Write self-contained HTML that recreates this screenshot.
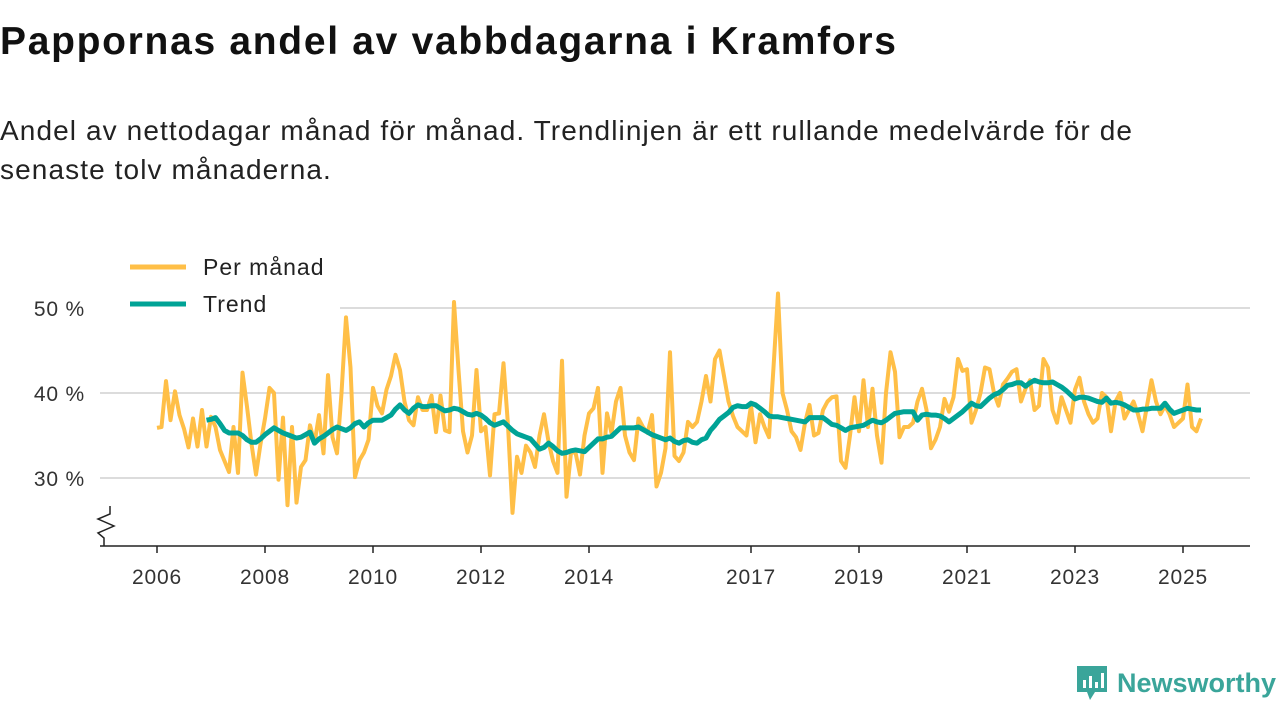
<!DOCTYPE html>
<html><head><meta charset="utf-8">
<style>
body{margin:0;width:1280px;height:720px;background:#fff;overflow:hidden;font-family:"Liberation Sans",sans-serif;color:#1a1a1a}
#title{position:absolute;left:0;top:20px;font-size:39px;font-weight:bold;color:#111;letter-spacing:1.7px;white-space:nowrap}
#sub{position:absolute;left:0;top:111px;font-size:28px;line-height:39px;color:#222;width:1235px;letter-spacing:1.1px}
svg{position:absolute;left:0;top:0}
#logo{position:absolute;right:4px;bottom:18px;font-size:27px;font-weight:bold;color:#3aa59a;display:flex;align-items:center;gap:8px}
</style></head><body>
<div id="title">Pappornas andel av vabbdagarna i Kramfors</div>
<div id="sub">Andel av nettodagar månad för månad. Trendlinjen är ett rullande medelvärde för de senaste tolv månaderna.</div>
<svg id="chart" width="1280" height="720"></svg>
<div id="logo">
<svg width="34" height="38" viewBox="0 0 34 38" style="position:static"><path d="M2 2h30v26H20l-5 8-3-8H2z" fill="#3aa59a"/><rect x="8" y="16" width="3" height="8" fill="#fff"/><rect x="14" y="12" width="3" height="12" fill="#fff"/><rect x="20" y="18" width="3" height="6" fill="#fff"/><rect x="26" y="9" width="3" height="15" fill="#fff"/></svg>
<span>Newsworthy</span></div>
<script>
const monthly=[35.9,36,41.4,36.8,40.2,37.4,35.8,33.6,37,33.7,38,33.7,
37.2,36,33.3,32,30.7,36,30.6,42.4,38.4,34,30.4,34,
37,40.6,40,29.8,37.1,26.8,36,27.1,31.3,32.1,36.2,34.1,
37.4,32.9,42.1,34.8,32.9,40,48.9,43,30.1,32.1,33,34.5,
40.6,38.5,37.6,40.4,42,44.5,42.7,39,36.8,36.2,39.5,38,
38,39.7,35.4,39.7,35.6,35.4,50.7,42.7,35.5,33,35,42.7,
35.5,36,30.3,37.5,37.6,43.5,36.2,25.9,32.5,30.6,33.8,33,
31.3,35,37.5,34.3,32,30.6,43.8,27.8,33,33,30.4,35,
37.6,38.2,40.6,30.6,37.6,35.3,39,40.6,35,33,32.1,37,
36,35.3,37.4,29,30.6,33.5,44.8,32.6,32,33,36.6,36,
36.6,39,42,39,44,45,42,39,37.3,36,35.5,35,
38.5,34.2,37.5,36,34.8,43,51.7,40,38,35.5,34.8,33.3,
36.5,38.6,35,35.3,38,39,39.5,39.6,32,31.2,35,39.5,
35.5,41.5,36,40.5,35,31.8,40,44.8,42.5,34.8,36,36,
36.5,39,40.5,38,33.5,34.5,36,39.3,37.8,39.5,44,42.6,
42.8,36.5,38,40,43,42.8,40,38.5,41,41.7,42.5,42.8,
39,40.5,41.5,38,38.5,44,43,38,36.5,39.5,38,36.5,
40.4,41.8,39,37.5,36.5,37,40,39.5,35.5,39,40,37,
38,39,37.5,35.5,38.5,41.5,39,37.5,38.5,37.5,36,36.5,
37,41,36,35.5,37];
const trendStart=11;
const trend=[36.8,36.9,37.1,36.4,35.6,35.3,35.3,35.3,35.0,34.5,34.2,34.2,34.6,
35.1,35.5,35.9,35.6,35.3,35.1,34.9,34.7,34.8,35.1,35.4,34.1,
34.6,34.9,35.3,35.7,36.0,35.8,35.6,35.9,36.4,36.6,36.0,36.5,
36.8,36.8,36.8,37.1,37.4,38.1,38.6,38.0,37.6,38.2,38.6,38.4,
38.4,38.5,38.5,38.2,37.9,38.0,38.2,38.1,37.8,37.5,37.4,37.6,
37.4,37.0,36.5,36.2,36.4,36.6,36.1,35.6,35.2,35.0,34.8,34.6,
34.0,33.4,33.6,34.1,33.7,33.2,32.9,33.0,33.2,33.3,33.2,33.1,
33.6,34.1,34.6,34.6,34.8,34.9,35.4,35.9,35.9,35.9,35.9,36.0,
35.7,35.4,35.1,34.9,34.7,34.5,34.7,34.3,34.1,34.4,34.5,34.2,
34.1,34.5,34.7,35.6,36.2,36.9,37.3,37.7,38.3,38.5,38.4,38.4,
38.8,38.6,38.2,37.8,37.3,37.2,37.2,37.1,37.0,36.9,36.8,36.7,
36.6,37.1,37.1,37.1,37.1,36.7,36.3,36.2,35.9,35.6,35.9,36.0,
36.1,36.2,36.5,36.8,36.6,36.5,36.8,37.2,37.6,37.7,37.8,37.8,
37.8,36.8,37.4,37.5,37.4,37.4,37.3,37.0,36.6,37.0,37.4,37.8,
38.3,38.8,38.5,38.4,38.9,39.4,39.8,40.0,40.4,40.9,41.0,41.2,
41.2,40.8,41.2,41.5,41.3,41.2,41.2,41.3,41.0,40.7,40.3,39.8,
39.3,39.5,39.5,39.4,39.2,39.0,38.9,39.4,38.8,38.9,38.8,38.6,
38.3,38.0,38.0,38.1,38.1,38.2,38.2,38.2,38.8,38.1,37.6,37.8,
38.0,38.2,38.1,38.0,38.0];
const yTicks=[30,40,50];
const yTickLabels=["30 %","40 %","50 %"];
const xTickYears=[2006,2008,2010,2012,2014,2017,2019,2021,2023,2025];

const NS="http://www.w3.org/2000/svg";
const svg=document.getElementById('chart');
const X=i=>157+4.5*i;
const Xyear=y=>157+54*(y-2006);
const Y=v=>393-(v-40)*8.5;
function mk(t,a){const e=document.createElementNS(NS,t);for(const k in a)e.setAttribute(k,a[k]);svg.appendChild(e);return e;}

yTicks.forEach((t,k)=>{
  const g=mk('line',{x1:100,x2:1250,y1:Y(t),y2:Y(t),stroke:'#dcdcdc','stroke-width':2});
  
  
  const l=mk('text',{x:85,y:Y(t)+8,'text-anchor':'end','font-size':21,'letter-spacing':0.8,fill:'#333','font-family':'Liberation Sans, sans-serif'});
  l.textContent=yTickLabels[k];
  
  
});
const ax=mk('line',{x1:100,x2:1250,y1:546,y2:546,stroke:'#222','stroke-width':1.5});


const br=mk('path',{d:'M104 546 V538 L98 533 L114 526 L98 519 L110 514 V506',fill:'none',stroke:'#222','stroke-width':1.5});


xTickYears.forEach(yr=>{
  const x=Xyear(yr);
  const t=mk('line',{x1:x,x2:x,y1:546,y2:553,stroke:'#222','stroke-width':1.5});
  
  
  const l=mk('text',{x:x,y:584,'text-anchor':'middle','font-size':21,'letter-spacing':0.8,fill:'#333','font-family':'Liberation Sans, sans-serif'});
  l.textContent=yr;
  
  
});
const mp=mk('polyline',{points:monthly.map((v,i)=>X(i)+','+Y(v)).join(' '),fill:'none',stroke:'#ffbf47','stroke-width':4,'stroke-linejoin':'round'});


const tp=mk('polyline',{points:trend.map((v,i)=>X(i+trendStart)+','+Y(v)).join(' '),fill:'none',stroke:'#00a396','stroke-width':5,'stroke-linejoin':'round'});


[['Per månad','#ffbf47',267],['Trend','#00a396',304]].forEach(([n,c,y])=>{
  const r=mk('rect',{x:95,y:y-20,width:245,height:38,fill:'#fff'});
  
  
  const l=mk('line',{x1:130,x2:186,y1:y,y2:y,stroke:c,'stroke-width':5});
  
  
  const t=mk('text',{x:203,y:y+8,'font-size':23,'letter-spacing':1,fill:'#222','font-family':'Liberation Sans, sans-serif'});
  t.textContent=n;
  
  
});
</script>
</body></html>
